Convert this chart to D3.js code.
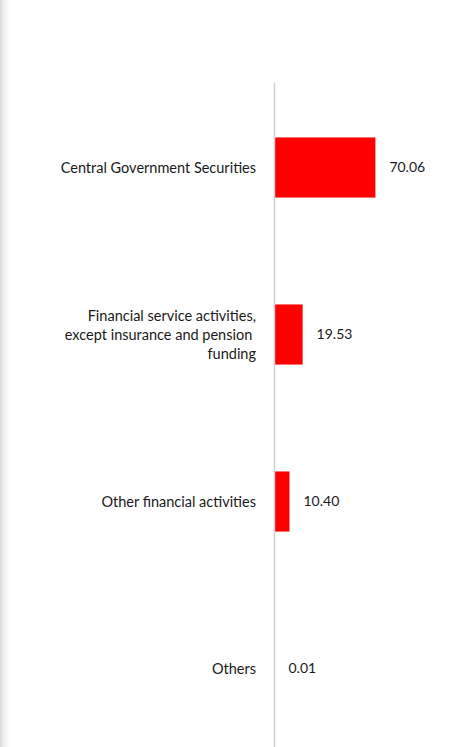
<!DOCTYPE html>
<html>
<head>
<meta charset="utf-8" />
<title>sector breakdown</title>
<style>
html, body {
	margin:0;
	padding:0;
	background:#ffffff;
}
svg {
	display:block;
	font-family: Lato, 'Noto Sans', sans-serif;
}
</style>
</head>
<body>

<script type="text/javascript" src="https://cdn.jsdelivr.net/npm/d3@7/dist/d3.min.js"></script>
<script>

//=======================================
// data
//=======================================

let categories = [
	['Central Government Securities'],
	['Financial service activities,', 'except insurance and pension ', 'funding'],
	['Other financial activities'],
	['Others'],
];

let values = [70.06, 19.53, 10.40, 0.01];


//=======================================
// chart
//=======================================

let width = 467,
		height = 747,
		axisX = 274.5,
		plotTop = 84,
		plotBottom = 752,

		keys = categories.map((d,i)=>i),
		y = d3.scaleBand().domain(keys).range([plotTop, plotBottom]).paddingInner(0.64).paddingOuter(0.32),
		x = d3.scaleLinear().domain([0, 100]).range([axisX, axisX + 144]),
		f2 = d3.format('.2f');

let svg = d3.select('body')
	.append('svg')
		.attr('width', width)
		.attr('height', height);

// left page shadow
let grad = svg.append('defs')
	.append('linearGradient')
		.attr('id','shade')
		.attr('x1','0').attr('x2','1').attr('y1','0').attr('y2','0');
grad.append('stop').attr('offset','0%').attr('stop-color','#d9d9d9');
grad.append('stop').attr('offset','35%').attr('stop-color','#efefef');
grad.append('stop').attr('offset','100%').attr('stop-color','#ffffff');

svg.append('rect')
	.attr('x',0).attr('y',0)
	.attr('width',10).attr('height',height)
	.attr('fill','url(#shade)');

// bars
svg.append('g').attr('class','bars')
	.selectAll('rect').data(values)
		.enter()
			.append('rect')
				.attr('x', x(0))
				.attr('y', (d,i)=>y(i))
				.attr('width', d=>x(d)-x(0))
				.attr('height', y.bandwidth())
				.attr('fill', '#ff0000');

// axis line
svg.append('line')
	.attr('x1', axisX).attr('x2', axisX)
	.attr('y1', plotTop - 1).attr('y2', height)
	.attr('stroke', '#d0d0d0')
	.attr('stroke-width', 1.5);

// category labels
svg.append('g').attr('class','labels')
	.selectAll('text').data(categories)
		.enter()
			.append('text')
				.attr('text-anchor','end')
				.attr('fill','#1a1a1a')
				.attr('font-size', 14.5)
				.attr('transform', (d,i)=>'translate('+[256, y(i) + y.bandwidth()/2]+')')
				.call(sel=>{
					sel.selectAll('tspan').data(d=>d.map((t,j)=>({t:t, j:j, n:d.length})))
						.enter()
							.append('tspan')
								.attr('x', 0)
								.attr('y', d=>(d.j - (d.n-1)/2) * 19)
								.attr('dy','0.35em')
								.style('white-space','pre')
								.text(d=>d.t);
				});

// value labels
svg.append('g').attr('class','values')
	.selectAll('text').data(values)
		.enter()
			.append('text')
				.attr('x', d=>x(d) + 14)
				.attr('y', (d,i)=>y(i) + y.bandwidth()/2)
				.attr('dy','0.35em')
				.attr('fill','#1a1a1a')
				.attr('font-size', 14)
				.text(d=>f2(d));

</script>
</body>
</html>
